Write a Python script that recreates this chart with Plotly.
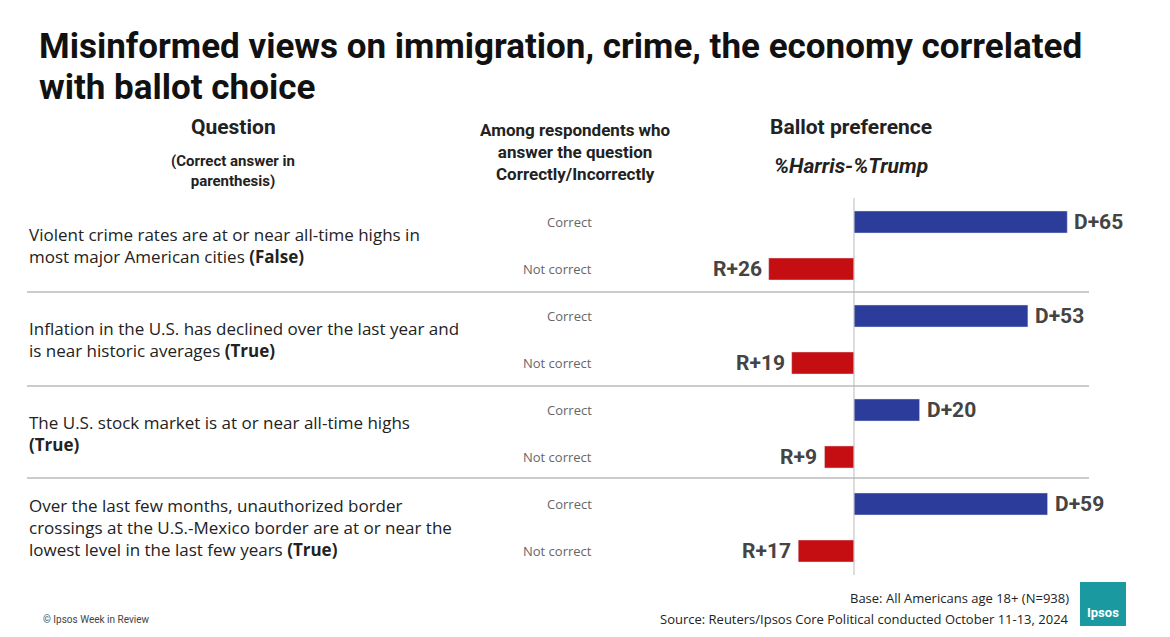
import plotly.graph_objects as go

questions = [
    "Violent crime rates are at or near all-time highs in<br>most major American cities <b>(False)</b>",
    "Inflation in the U.S. has declined over the last year and<br>is near historic averages <b>(True)</b>",
    "The U.S. stock market is at or near all-time highs<br><b>(True)</b>",
    "Over the last few months, unauthorized border<br>crossings at the U.S.-Mexico border are at or near the<br>lowest level in the last few years <b>(True)</b>",
]
answers = ["Correct", "Not correct"]
margins = [65, -26, 53, -19, 20, -9, 59, -17]
labels = ["D+65", "R+26", "D+53", "R+19", "D+20", "R+9", "D+59", "R+17"]

W, H = 1170, 637
BLUE, RED = "#2B3C9B", "#C40E12"
FONT = "Roboto"
OX, OY = 9, 8  # page offset in the screenshot

def px(p):
    return (p - OX) / W

def py(p):
    return 1 - (p - OY) / H

rows = list(range(len(margins)))
fig = go.Figure(go.Bar(
    x=margins, y=rows, orientation="h", width=0.47,
    marker_color=[BLUE if v > 0 else RED for v in margins],
    hoverinfo="skip",
))

ann = []
for i, (v, t) in enumerate(zip(margins, labels)):
    ann.append(dict(x=v, y=i, xref="x", yref="y", text=f"<b>{t}</b>", showarrow=False,
                    xanchor="left" if v > 0 else "right", xshift=5 if v > 0 else -5,
                    font=dict(size=21, color="#444444")))
    ann.append(dict(x=px(595), y=i, xref="paper", yref="y", text=answers[i % 2], showarrow=False,
                    xanchor="right", font=dict(size=13, color="#666666", family="Open Sans")))
for k, q in enumerate(questions):
    ann.append(dict(x=px(28), y=2 * k + 0.5, xref="paper", yref="y", text=q, showarrow=False,
                    xanchor="left", align="left",
                    font=dict(size=17, color="#222222", family="Open Sans")))

def txt(x, y, s, size, anchor="center", color="#222222", family=FONT):
    ann.append(dict(x=px(x), y=py(y), xref="paper", yref="paper", text=s, showarrow=False,
                    xanchor=anchor, yanchor="middle", align="center",
                    font=dict(size=size, color=color, family=family)))

txt(38, 47, "<b>Misinformed views on immigration, crime, the economy correlated</b>", 35, "left", "#111111")
txt(38, 87, "<b>with ballot choice</b>", 35, "left", "#111111")
txt(234, 127, "<b>Question</b>", 21)
txt(234, 171, "<b>(Correct answer in<br>parenthesis)</b>", 15)
txt(576, 152, "<b>Among respondents who<br>answer the question<br>Correctly/Incorrectly</b>", 17)
txt(852, 127, "<b>Ballot preference</b>", 21)
txt(852, 166, "<b><i>%Harris-%Trump</i></b>", 21)
txt(1072, 598, "Base: All Americans age 18+ (N=938)", 13, "right", family="Open Sans")
txt(1072, 619, "Source: Reuters/Ipsos Core Political conducted October 11-13, 2024", 13, "right", family="Open Sans")
txt(42, 619, "© Ipsos Week in Review", 10, "left", "#444444")
txt(1104, 612, "<b>Ipsos</b>", 13, "center", "white")

shapes = [dict(type="line", xref="paper", yref="paper", x0=px(28), x1=px(1090),
               y0=py(yp), y1=py(yp), line=dict(color="#999999", width=1)) for yp in (292, 386, 478)]
shapes.append(dict(type="line", xref="x", yref="paper", x0=0, x1=0, y0=py(198), y1=py(575),
                   line=dict(color="#BBBBBB", width=1)))
shapes.append(dict(type="rect", xref="paper", yref="paper", x0=px(1081), x1=px(1127),
                   y0=py(626), y1=py(582), fillcolor="#1A9AA0", line_width=0))

fig.update_layout(
    width=W, height=H, margin=dict(l=0, r=0, t=0, b=0),
    paper_bgcolor="white", plot_bgcolor="white", showlegend=False,
    font=dict(family=FONT),
    xaxis=dict(domain=[px(600), px(1130)], range=[-77.7, 83.8], visible=False, fixedrange=True),
    yaxis=dict(domain=[py(574.5), py(198.5)], range=[7.5, -0.5], visible=False, fixedrange=True),
    annotations=ann, shapes=shapes,
)
fig.write_html("out.html")
